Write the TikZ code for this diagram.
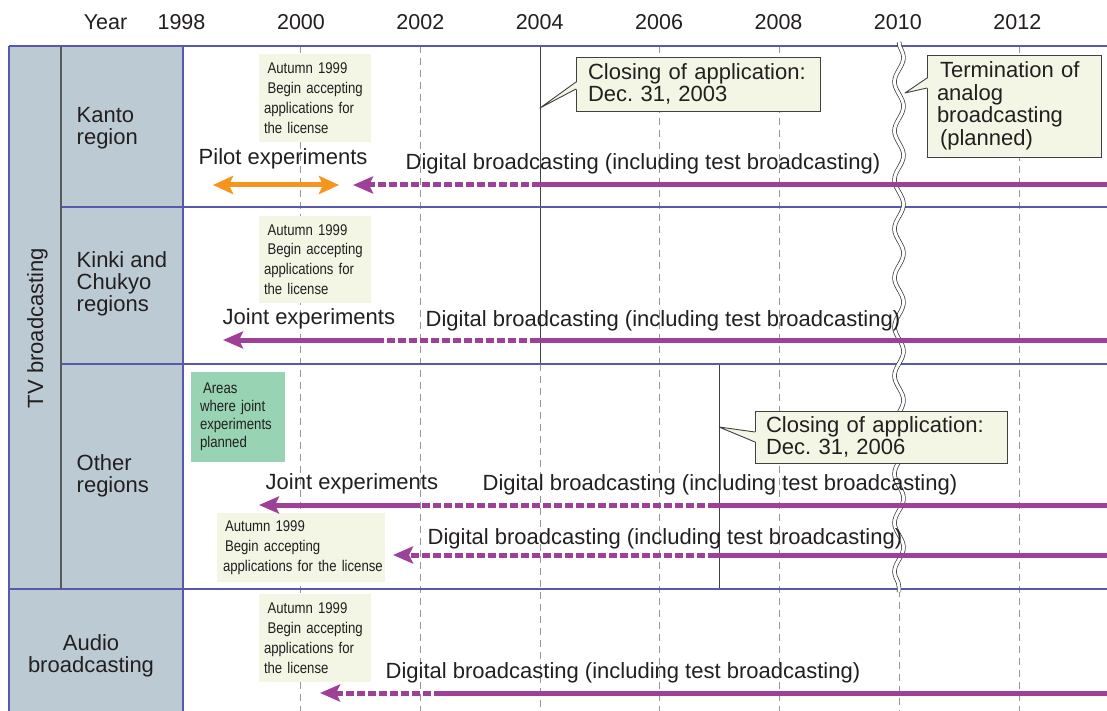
\documentclass[tikz,border=0pt]{standalone}
\usepackage{fontspec}
\setmainfont{Liberation Sans}
\newfontfamily\narrowfont[FakeStretch=0.85]{Liberation Sans}
\usetikzlibrary{arrows.meta,decorations.pathmorphing,calc}
\frenchspacing
\definecolor{rowblue}{RGB}{88,88,172}
\definecolor{colgray}{RGB}{188,203,211}
\definecolor{notefill}{RGB}{243,246,228}
\definecolor{greenfill}{RGB}{152,212,180}
\definecolor{digpurple}{RGB}{158,63,152}
\definecolor{pilotorange}{RGB}{247,148,29}
\definecolor{txt}{RGB}{35,31,32}
\definecolor{gridgray}{RGB}{150,150,150}
\newcommand\FontBig{\fontsize{22}{22}\selectfont}
\newcommand\FontYear{\fontsize{21.5}{22}\selectfont}
\newcommand\FontNote[1]{\narrowfont\fontsize{15.5}{#1}\selectfont}
\tikzset{
  rowline/.style={draw=rowblue, line width=1.1pt},
  divider/.style={draw=black!65, line width=1.1pt},
  gridline/.style={draw=gridgray, line width=0.9pt, dash pattern=on 7pt off 5pt},
  markline/.style={draw=black!75, line width=1pt},
  yearlabel/.style={font=\FontYear, anchor=base, inner sep=0pt, text=txt},
  regionlabel/.style={font=\FontBig, align=left, anchor=north west, inner sep=0pt, text=txt},
  rowtext/.style={font=\FontBig, anchor=base west, inner sep=0pt, text=txt},
  notebox/.style={fill=notefill, anchor=north west, align=left, inner xsep=5pt, inner ysep=0pt, outer sep=0pt, text=txt},
  calloutbox/.style={draw=black!75, line width=0.9pt, fill=notefill, anchor=north west, align=left, font=\FontBig, inner ysep=0pt, outer sep=0pt, text=txt},
  calloutedge/.style={draw=black!75, line width=0.9pt, line join=round},
  digline/.style={draw=digpurple, line width=5pt},
  digdashed/.style={digline, dash pattern=on 8pt off 3pt},
  digtip/.style={-{Stealth[length=20pt,width=17pt,inset=4pt]}},
  pilottip/.style={{Stealth[length=20pt,width=18pt,inset=4pt]}-{Stealth[length=20pt,width=18pt,inset=4pt]}},
  wavebreak/.style={decorate, decoration={snake, segment length=49pt, amplitude=4.5pt}, draw=black!80, line width=0.7pt, double=white, double distance=3pt}
}
\begin{document}
\begin{tikzpicture}[x=1pt,y=-1pt]
\useasboundingbox (0,0) rectangle (1107,711);
\fill[white] (0,0) rectangle (1107,711);
% gray header column
\fill[colgray] (9,46) rectangle (183,712);
% dashed year grid
\foreach \gx in {300,420,659,779,1019} \draw[gridline] (\gx,46) -- (\gx,712);
\draw[gridline] (540,364) -- (540,712);
\draw[gridline] (899,590) -- (899,712);
% closing-date marks
\draw[markline] (540,46) -- (540,364);
\draw[markline] (719,364) -- (719,589);
% row lines
\draw[rowline] (9,46) -- (1108,46);
\draw[rowline] (61,207) -- (1108,207);
\draw[rowline] (61,364) -- (1108,364);
\draw[rowline] (9,589) -- (1108,589);
\draw[rowline] (9,46) -- (9,712);
\draw[rowline] (183,46) -- (183,712);
\draw[divider] (61,46) -- (61,589);
% wavy break at 2010
\coordinate (wtop) at (899,42);
\coordinate (wbot) at (899,592);
\draw[wavebreak] (wtop) -- (wbot);

% year labels
\node[yearlabel] (yYear) at (105.5,30) {Year};
\node[yearlabel] (y1998) at (181.5,30) {1998};
\node[yearlabel] (y2000) at (301,30) {2000};
\node[yearlabel] (y2002) at (420.3,30) {2002};
\node[yearlabel] (y2004) at (539.7,30) {2004};
\node[yearlabel] (y2006) at (659.1,30) {2006};
\node[yearlabel] (y2008) at (778.5,30) {2008};
\node[yearlabel] (y2010) at (897.9,30) {2010};
\node[yearlabel] (y2012) at (1017.3,30) {2012};

% header labels
\node[font=\FontBig, rotate=90, anchor=base, inner sep=0pt, text=txt] (tv) at (43,328) {TV broadcasting};
\node[regionlabel] (kanto) at (76.5,107) {Kanto\\region};
\node[regionlabel] (kinki) at (76.5,251) {Kinki and\\Chukyo\\regions};
\node[regionlabel] (other) at (76.5,454) {Other\\regions};
\node[regionlabel, align=center, anchor=north] (audio) at (91,634) {Audio\\broadcasting};

% note boxes
\node[notebox, font=\FontNote{19.8}, text width=102pt, minimum width=112pt, minimum height=88pt] (noteK) at (259,54)
  {\hspace*{3.5pt}Autumn 1999\\\hspace*{3.5pt}Begin accepting\\applications for\\the license};
\node[notebox, font=\FontNote{19.8}, text width=102pt, minimum width=112pt, minimum height=87pt] (noteKi) at (259,216)
  {\hspace*{3.5pt}Autumn 1999\\\hspace*{3.5pt}Begin accepting\\applications for\\the license};
\node[notebox, font=\FontNote{20}, inner xsep=6pt, text width=156pt, minimum width=168pt, minimum height=69pt] (noteO) at (217,513)
  {\hspace*{2pt}Autumn 1999\\\hspace*{2pt}Begin accepting\\\mbox{applications for the license}};
\node[notebox, font=\FontNote{19.8}, text width=102pt, minimum width=112pt, minimum height=88pt] (noteA) at (259,594)
  {\hspace*{3.5pt}Autumn 1999\\\hspace*{3.5pt}Begin accepting\\applications for\\the license};
\node[notebox, fill=greenfill, font=\FontNote{18}, inner xsep=9pt, text width=76pt, minimum width=94pt, minimum height=90pt] (areas) at (191,372)
  {\hspace*{3pt}Areas\\where joint\\experiments\\planned};

% ---- Kanto arrows
\coordinate (pilotL) at (213,185);
\coordinate (pilotR) at (339,185);
\draw[line width=5pt, pilotorange, pilottip] (pilotL) -- (pilotR);
\coordinate (kTip) at (353,185);
\coordinate (kMid) at (540,185);
\coordinate (kEnd) at (1108,185);
\draw[digline] (kEnd) -- (kMid);
\draw[digdashed, digtip] (kMid) -- (kTip);
\node[rowtext] (pilotTxt) at (198.5,165) {Pilot experiments};
\node[rowtext] (kDigTxt) at (405.5,170) {Digital broadcasting (including test broadcasting)};

% ---- Kinki arrows
\coordinate (kiTip) at (223,340);
\coordinate (kiA) at (380,340);
\coordinate (kiB) at (538,340);
\coordinate (kiEnd) at (1108,340);
\draw[digline] (kiEnd) -- (kiB);
\draw[digdashed] (kiB) -- (kiA);
\draw[digline, digtip] (kiA) -- (kiTip);
\node[rowtext] (kiJointTxt) at (222.5,324) {Joint experiments};
\node[rowtext] (kiDigTxt) at (425.5,326) {Digital broadcasting (including test broadcasting)};

% ---- Other regions arrows
\coordinate (o1Tip) at (259,505);
\coordinate (o1A) at (420,505);
\coordinate (o1B) at (716,505);
\coordinate (o1End) at (1108,505);
\draw[digline] (o1End) -- (o1B);
\draw[digdashed] (o1B) -- (o1A);
\draw[digline, digtip] (o1A) -- (o1Tip);
\node[rowtext] (o1JointTxt) at (265.5,489) {Joint experiments};
\node[rowtext] (o1DigTxt) at (482.5,490) {Digital broadcasting (including test broadcasting)};
\coordinate (o2Tip) at (393,555);
\coordinate (o2A) at (716,555);
\coordinate (o2End) at (1108,555);
\draw[digline] (o2End) -- (o2A);
\draw[digdashed, digtip] (o2A) -- (o2Tip);
\node[rowtext] (o2DigTxt) at (427.5,544) {Digital broadcasting (including test broadcasting)};

% ---- Audio arrows
\coordinate (aTip) at (320,693);
\coordinate (aA) at (442,693);
\coordinate (aEnd) at (1108,693);
\draw[digline] (aEnd) -- (aA);
\draw[digdashed, digtip] (aA) -- (aTip);
\node[rowtext] (aDigTxt) at (385.5,678) {Digital broadcasting (including test broadcasting)};

% ---- callouts
\node[calloutbox, inner xsep=12pt, text width=220pt, minimum width=244pt, minimum height=54pt] (calloutA) at (576,57)
  {Closing of application:\\Dec. 31, 2003};
\coordinate (tipA) at (540,108);
\fill[notefill] ($(calloutA.north west)+(1.2,25)$) -- (tipA) -- ($(calloutA.north west)+(1.2,32)$) -- cycle;
\draw[calloutedge] ($(calloutA.north west)+(0,25)$) -- (tipA) -- ($(calloutA.north west)+(0,32)$);

\node[calloutbox, font=\fontsize{22}{22.5}\selectfont, inner xsep=10pt, text width=154pt, minimum width=174pt, minimum height=102pt] (calloutB) at (927,55)
  {\hspace*{3pt}Termination of\\analog\\broadcasting\\\hspace*{3pt}(planned)};
\coordinate (tipB) at (905,93);
\fill[notefill] ($(calloutB.north west)+(1.2,23)$) -- (tipB) -- ($(calloutB.north west)+(1.2,33)$) -- cycle;
\draw[calloutedge] ($(calloutB.north west)+(0,23)$) -- (tipB) -- ($(calloutB.north west)+(0,33)$);

\node[calloutbox, inner xsep=11pt, text width=230pt, minimum width=252pt, minimum height=52pt] (calloutC) at (755,411)
  {Closing of application:\\Dec. 31, 2006};
\coordinate (tipC) at (719,427);
\fill[notefill] ($(calloutC.north west)+(1.2,21)$) -- (tipC) -- ($(calloutC.north west)+(1.2,31)$) -- cycle;
\draw[calloutedge] ($(calloutC.north west)+(0,21)$) -- (tipC) -- ($(calloutC.north west)+(0,31)$);
\end{tikzpicture}
\end{document}
